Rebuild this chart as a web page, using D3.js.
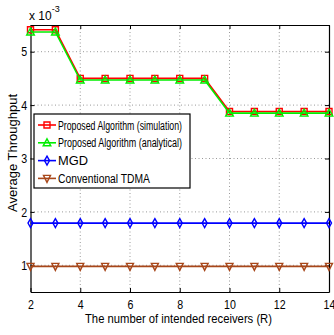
<!DOCTYPE html>
<html>
<head>
<meta charset="utf-8">
<script src="https://cdn.jsdelivr.net/npm/d3@7"></script>
<style>
  body { margin: 0; background: #fff; }
  text { font-family: "Liberation Sans", Arial, sans-serif; fill: #000; }
</style>
</head>
<body>
<div id="chart"></div>
<script>
// Data (values in units of 1e-3)
const receivers = [2, 3, 4, 5, 6, 7, 8, 9, 10, 11, 12, 13, 14];
const simulation = [5.41, 5.41, 4.50, 4.50, 4.50, 4.50, 4.50, 4.50, 3.88, 3.88, 3.88, 3.88, 3.88];
const analytical = [5.37, 5.37, 4.47, 4.47, 4.47, 4.47, 4.47, 4.47, 3.85, 3.85, 3.85, 3.85, 3.85];
const mgd = [1.79, 1.79, 1.79, 1.79, 1.79, 1.79, 1.79, 1.79, 1.79, 1.79, 1.79, 1.79, 1.79];
const tdma = [0.98, 0.98, 0.98, 0.98, 0.98, 0.98, 0.98, 0.98, 0.98, 0.98, 0.98, 0.98, 0.98];
const xTicks = [2, 4, 6, 8, 10, 12, 14];
const yTicks = [1, 2, 3, 4, 5];

const series = [
  { name: "Proposed Algorithm (simulation)", values: simulation, color: "#ff0000", marker: "square" },
  { name: "Proposed Algorithm (analytical)", values: analytical, color: "#00ee00", marker: "triangle" },
  { name: "MGD", values: mgd, color: "#0000ff", marker: "diamond" },
  { name: "Conventional TDMA", values: tdma, color: "#a8471a", marker: "down" }
];

const W = 334, H = 335;
const margin = { top: 25, right: 5, bottom: 43, left: 30.5 };
const width = W - margin.left - margin.right,
      height = H - margin.top - margin.bottom;

const svg = d3.select("#chart").append("svg")
  .attr("width", W).attr("height", H);
const g = svg.append("g")
  .attr("transform", `translate(${margin.left},${margin.top})`);

const x = d3.scaleLinear().domain([2, 14]).range([0, width]);
const y = d3.scaleLinear().domain([0.5, 5.5]).range([height, 0]);

// grid
g.append("g").selectAll("line").data(xTicks.slice(1, -1)).join("line")
  .attr("x1", d => x(d)).attr("x2", d => x(d))
  .attr("y1", 0).attr("y2", height)
  .attr("stroke", "#999").attr("stroke-dasharray", "1,2.5");
g.append("g").selectAll("line").data(yTicks).join("line")
  .attr("x1", 0).attr("x2", width)
  .attr("y1", d => y(d)).attr("y2", d => y(d))
  .attr("stroke", "#999").attr("stroke-dasharray", "1,2.5");

// axes (ticks inside)
const axB = g.append("g").attr("transform", `translate(0,${height})`)
  .call(d3.axisBottom(x).tickValues(xTicks).tickFormat(d3.format("d"))
    .tickSize(-4).tickPadding(8).tickSizeOuter(0));
const axL = g.append("g")
  .call(d3.axisLeft(y).tickValues(yTicks).tickFormat(d3.format("d"))
    .tickSize(-4).tickPadding(4).tickSizeOuter(0));
g.append("g").call(d3.axisTop(x).tickValues(xTicks).tickSize(-4).tickFormat("").tickSizeOuter(0));
g.append("g").attr("transform", `translate(${width},0)`)
  .call(d3.axisRight(y).tickValues(yTicks).tickSize(-4).tickFormat("").tickSizeOuter(0));
g.selectAll(".domain").attr("stroke", "#000").attr("stroke-width", 1.2);
g.selectAll(".tick line").attr("stroke", "#000");
axB.selectAll("text").style("font-size", "13px").attr("fill", "#000")
  .attr("transform", "scale(0.82,1)");
axL.selectAll("text").style("font-size", "13px").attr("fill", "#000")
  .attr("transform", "scale(0.82,1)");

// exponent label
const expo = svg.append("text").attr("x", 29).attr("y", 20).style("font-size", "12px");
expo.append("tspan").text("x 10");
expo.append("tspan").attr("dy", -8).style("font-size", "9px").text("-3");

// markers
function markerPath(type) {
  if (type === "square") return "M-3,-3H3V3H-3Z";
  if (type === "triangle") return "M0,-4L3.8,3H-3.8Z";
  if (type === "diamond") return "M0,-4.5L2.5,0L0,4.5L-2.5,0Z";
  return "M0,4L3.5,-3H-3.5Z";
}

const line = d3.line().x((d, i) => x(receivers[i])).y(d => y(d));

series.forEach(s => {
  const sg = g.append("g");
  sg.append("path").datum(s.values)
    .attr("d", line).attr("fill", "none")
    .attr("stroke", s.color).attr("stroke-width", 1.6);
  sg.selectAll("path.m").data(s.values).join("path").attr("class", "m")
    .attr("transform", (d, i) => `translate(${x(receivers[i])},${y(d)})`)
    .attr("d", markerPath(s.marker))
    .attr("fill", "none").attr("stroke", s.color).attr("stroke-width", 1.4);
});

// legend
const legend = svg.append("g").attr("transform", "translate(34,114)");
legend.append("rect").attr("width", 156).attr("height", 74)
  .attr("fill", "#fff").attr("stroke", "#000").attr("stroke-width", 1.2);
const legendWidths = [124, 124, 30, 92];
const item = legend.selectAll("g.item").data(series).join("g").attr("class", "item")
  .attr("transform", (d, i) => `translate(0,${11 + i * 17.8})`);
item.append("line").attr("x1", 4).attr("x2", 22)
  .attr("stroke", d => d.color).attr("stroke-width", 1.6);
item.append("path").attr("transform", "translate(13,0)")
  .attr("d", d => markerPath(d.marker))
  .attr("fill", "none").attr("stroke", d => d.color).attr("stroke-width", 1.4);
item.append("text").attr("x", 24).attr("y", 4.5)
  .style("font-size", "12px")
  .attr("textLength", (d, i) => legendWidths[i])
  .attr("lengthAdjust", "spacingAndGlyphs")
  .text(d => d.name);

// axis labels
svg.append("text").attr("x", 85).attr("y", 323)
  .style("font-size", "13px")
  .attr("textLength", 187).attr("lengthAdjust", "spacingAndGlyphs")
  .text("The number of intended receivers (R)");
svg.append("text")
  .attr("transform", "translate(17,153) rotate(-90)")
  .attr("text-anchor", "middle")
  .style("font-size", "13px")
  .text("Average Throughput");
</script>
</body>
</html>
